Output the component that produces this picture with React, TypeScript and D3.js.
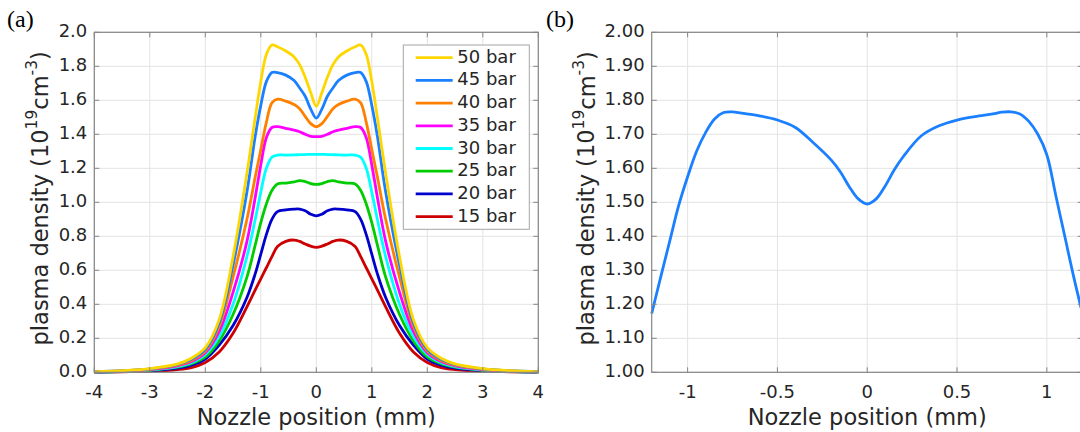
import React, { useEffect } from "react";
import * as d3 from "d3";

// ---------- DATA ----------
const xGrid = [-4, -3.5, -3, -2.5, -2.25, -2, -1.75, -1.5, -1.25, -1.1, -1.0, -0.9, -0.8, -0.7, -0.55, -0.4, -0.3, -0.2, -0.1, 0,
  0.1, 0.2, 0.3, 0.4, 0.55, 0.7, 0.8, 0.9, 1.0, 1.1, 1.25, 1.5, 1.75, 2, 2.25, 2.5, 3, 3.5, 4];

const bar50 = [0.003, 0.01, 0.022, 0.05, 0.083, 0.145, 0.31, 0.68, 1.17, 1.5, 1.71, 1.87, 1.925, 1.915, 1.89, 1.855, 1.81, 1.735, 1.645, 1.565,
  1.645, 1.735, 1.81, 1.855, 1.89, 1.915, 1.925, 1.87, 1.71, 1.5, 1.17, 0.68, 0.31, 0.145, 0.083, 0.05, 0.022, 0.01, 0.003];
const bar45 = [0.003, 0.009, 0.02, 0.046, 0.076, 0.135, 0.29, 0.63, 1.06, 1.39, 1.57, 1.71, 1.764, 1.763, 1.748, 1.716, 1.672, 1.624, 1.548, 1.495,
  1.548, 1.624, 1.672, 1.716, 1.748, 1.763, 1.764, 1.71, 1.57, 1.39, 1.06, 0.63, 0.29, 0.135, 0.076, 0.046, 0.02, 0.009, 0.003];
const bar40 = [0.002, 0.008, 0.018, 0.042, 0.07, 0.125, 0.27, 0.56, 0.9, 1.15, 1.31, 1.47, 1.585, 1.607, 1.595, 1.575, 1.55, 1.505, 1.463, 1.445,
  1.463, 1.505, 1.55, 1.575, 1.595, 1.607, 1.585, 1.47, 1.31, 1.15, 0.9, 0.56, 0.27, 0.125, 0.07, 0.042, 0.018, 0.008, 0.002];
const bar35 = [0.002, 0.007, 0.016, 0.038, 0.063, 0.115, 0.24, 0.47, 0.77, 1.03, 1.22, 1.38, 1.44, 1.445, 1.435, 1.425, 1.415, 1.4, 1.388, 1.386,
  1.388, 1.4, 1.415, 1.425, 1.435, 1.445, 1.44, 1.38, 1.22, 1.03, 0.77, 0.47, 0.24, 0.115, 0.063, 0.038, 0.016, 0.007, 0.002];
const bar30 = [0.002, 0.006, 0.014, 0.034, 0.057, 0.105, 0.21, 0.4, 0.68, 0.9, 1.06, 1.2, 1.265, 1.278, 1.278, 1.279, 1.28, 1.281, 1.282, 1.282,
  1.282, 1.281, 1.28, 1.279, 1.278, 1.278, 1.265, 1.2, 1.06, 0.9, 0.68, 0.4, 0.21, 0.105, 0.057, 0.034, 0.014, 0.006, 0.002];
const bar25 = [0.001, 0.005, 0.012, 0.03, 0.05, 0.09, 0.185, 0.34, 0.56, 0.75, 0.88, 0.99, 1.07, 1.108, 1.113, 1.12, 1.128, 1.122, 1.11, 1.105,
  1.11, 1.122, 1.128, 1.12, 1.113, 1.108, 1.07, 0.99, 0.88, 0.75, 0.56, 0.34, 0.185, 0.09, 0.05, 0.03, 0.012, 0.005, 0.001];
const bar20 = [0.001, 0.004, 0.009, 0.024, 0.042, 0.078, 0.16, 0.275, 0.44, 0.58, 0.695, 0.81, 0.9, 0.945, 0.955, 0.96, 0.96, 0.95, 0.93, 0.92,
  0.93, 0.95, 0.96, 0.96, 0.955, 0.945, 0.9, 0.81, 0.695, 0.58, 0.44, 0.275, 0.16, 0.078, 0.042, 0.024, 0.009, 0.004, 0.001];
const bar15 = [0.001, 0.003, 0.006, 0.016, 0.028, 0.058, 0.12, 0.23, 0.385, 0.485, 0.55, 0.615, 0.68, 0.74, 0.77, 0.778, 0.77, 0.755, 0.742, 0.735,
  0.742, 0.755, 0.77, 0.778, 0.77, 0.74, 0.68, 0.615, 0.55, 0.485, 0.385, 0.23, 0.12, 0.058, 0.028, 0.016, 0.006, 0.003, 0.001];

const seriesLabels = ["50 bar", "45 bar", "40 bar", "35 bar", "30 bar", "25 bar", "20 bar", "15 bar"];
const seriesValues = [bar50, bar45, bar40, bar35, bar30, bar25, bar20, bar15];
const seriesColors = ["#FFD700", "#1A80FF", "#FF8000", "#FF00FF", "#00FFFF", "#00CC00", "#0000CC", "#CC0000"];

// panel (b): zoom on 45 bar
const xB = [-1.2, -1.15, -1.1, -1.05, -1.0, -0.95, -0.9, -0.85, -0.8, -0.75, -0.7, -0.6, -0.5, -0.4, -0.3, -0.2, -0.15, -0.1, -0.05, 0,
  0.05, 0.1, 0.15, 0.2, 0.3, 0.4, 0.5, 0.6, 0.7, 0.75, 0.8, 0.85, 0.9, 0.95, 1.0, 1.05, 1.1, 1.15, 1.2];
const yB = [1.173, 1.28, 1.385, 1.49, 1.575, 1.65, 1.705, 1.745, 1.764, 1.766, 1.762, 1.754, 1.742, 1.72, 1.675, 1.624, 1.59, 1.546, 1.51, 1.495,
  1.51, 1.548, 1.595, 1.634, 1.695, 1.725, 1.742, 1.752, 1.76, 1.765, 1.766, 1.76, 1.738, 1.7, 1.64, 1.52, 1.4, 1.28, 1.17];

const xTicksA = [-4, -3, -2, -1, 0, 1, 2, 3, 4];
const yTicksA = [0, 0.2, 0.4, 0.6, 0.8, 1.0, 1.2, 1.4, 1.6, 1.8, 2.0];
const xTicksB = [-1, -0.5, 0, 0.5, 1];
const yTicksB = [1.0, 1.1, 1.2, 1.3, 1.4, 1.5, 1.6, 1.7, 1.8, 1.9, 2.0];

const xLabel = "Nozzle position (mm)";
const panelLabels = ["(a)", "(b)"];

// ---------- STYLE ----------
const FONT = "'DejaVu Sans', sans-serif";
const TXT = "#262626";
const AXIS = "#868686";
const GRID = "#e3e3e3";
const TICKLEN = 5;
const LW = 2.8;

function Panel({ x, y, xTicks, yTicks, xFmt, yFmt, label, labelX, yLabelOff, children }: any) {
  const [l, r] = x.range();
  const [b, t] = y.range();
  return (
    <g>
      {xTicks.map((v: number) => (
        <line key={"gx" + v} x1={x(v)} x2={x(v)} y1={t} y2={b} stroke={GRID} strokeWidth={1} />
      ))}
      {yTicks.map((v: number) => (
        <line key={"gy" + v} x1={l} x2={r} y1={y(v)} y2={y(v)} stroke={GRID} strokeWidth={1} />
      ))}
      {children}
      <rect x={l} y={t} width={r - l} height={b - t} fill="none" stroke={AXIS} strokeWidth={1.2} />
      {xTicks.map((v: number) => (
        <g key={"tx" + v}>
          <line x1={x(v)} x2={x(v)} y1={b} y2={b - TICKLEN} stroke={AXIS} />
          <line x1={x(v)} x2={x(v)} y1={t} y2={t + TICKLEN} stroke={AXIS} />
          <text x={x(v)} y={b + 26} textAnchor="middle" fontSize={18} fill={TXT} fontFamily={FONT}>{xFmt(v)}</text>
        </g>
      ))}
      {yTicks.map((v: number) => (
        <g key={"ty" + v}>
          <line x1={l} x2={l + TICKLEN} y1={y(v)} y2={y(v)} stroke={AXIS} />
          <line x1={r} x2={r - TICKLEN} y1={y(v)} y2={y(v)} stroke={AXIS} />
          <text x={l - 7} y={y(v)} textAnchor="end" dominantBaseline="middle" fontSize={18} fill={TXT} fontFamily={FONT}>{yFmt(v)}</text>
        </g>
      ))}
      <text x={(l + r) / 2} y={b + 52.5} textAnchor="middle" fontSize={22.5} fill={TXT} fontFamily={FONT}>{xLabel}</text>
      <text transform={`translate(${l - yLabelOff},${(t + b) / 2 - 4}) rotate(-90)`} textAnchor="middle" dominantBaseline="middle" fontSize={22.5} fill={TXT} fontFamily={FONT}>
        plasma density (10<tspan dy={-9} fontSize={15.5}>19</tspan><tspan dy={9}>cm</tspan><tspan dy={-9} fontSize={15.5}>-3</tspan><tspan dy={9}>)</tspan>
      </text>
      <text x={labelX} y={27} fontSize={24} fill="#000" fontFamily="'Liberation Serif', 'Times New Roman', serif">{label}</text>
    </g>
  );
}

export default function App() {
  useEffect(() => {
    document.body.style.margin = "0";
  }, []);

  const top = 32.3, bottom = 372.3;
  const xA = d3.scaleLinear().domain([-4, 4]).range([94.3, 538.3]);
  const yA = d3.scaleLinear().domain([0, 2]).range([bottom, top]);
  const xBs = d3.scaleLinear().domain([-1.2, 1.2]).range([651.7, 651.7 + 2.4 * 179.6]);
  const yBs = d3.scaleLinear().domain([1, 2]).range([bottom, top]);

  const lineA = d3.line<number>()
    .x((_, i) => xA(xGrid[i]))
    .y((d) => yA(d))
    .curve(d3.curveCatmullRom.alpha(0.5));
  const lineB = d3.line<number>()
    .x((_, i) => xBs(xB[i]))
    .y((d) => yBs(d))
    .curve(d3.curveCatmullRom.alpha(0.5));

  const drawOrder = [7, 6, 5, 4, 3, 2, 1, 0];

  // legend geometry
  const lgX = 403.3, lgY = 45, lgW = 126, lgH = 184.3, rowH = 22.7;

  return (
    <svg width={1080} height={432} style={{ display: "block", background: "#fff" }}>
      <rect width={1080} height={432} fill="#fff" />
      <Panel x={xA} y={yA} xTicks={xTicksA} yTicks={yTicksA} xFmt={(v: number) => String(v)} yFmt={d3.format(".1f")}
        label={panelLabels[0]} labelX={7} yLabelOff={53}>
        {drawOrder.map((i) => (
          <path key={i} d={lineA(seriesValues[i]) || ""} fill="none" stroke={seriesColors[i]} strokeWidth={LW} strokeLinejoin="round" />
        ))}
      </Panel>
      <g>
        <rect x={lgX} y={lgY} width={lgW} height={lgH} fill="#fff" stroke="#a6a6a6" strokeWidth={1} />
        {seriesLabels.map((s, i) => (
          <g key={s}>
            <line x1={415.7} x2={452.7} y1={lgY + 12.7 + i * rowH} y2={lgY + 12.7 + i * rowH} stroke={seriesColors[i]} strokeWidth={LW} />
            <text x={457.3} y={lgY + 12.7 + i * rowH} dominantBaseline="middle" fontSize={18} fill={TXT} fontFamily={FONT}>{s}</text>
          </g>
        ))}
      </g>
      <Panel x={xBs} y={yBs} xTicks={xTicksB} yTicks={yTicksB} xFmt={(v: number) => String(v)} yFmt={d3.format(".2f")}
        label={panelLabels[1]} labelX={546} yLabelOff={64}>
        <path d={lineB(yB) || ""} fill="none" stroke={seriesColors[1]} strokeWidth={LW} strokeLinejoin="round" />
      </Panel>
    </svg>
  );
}
